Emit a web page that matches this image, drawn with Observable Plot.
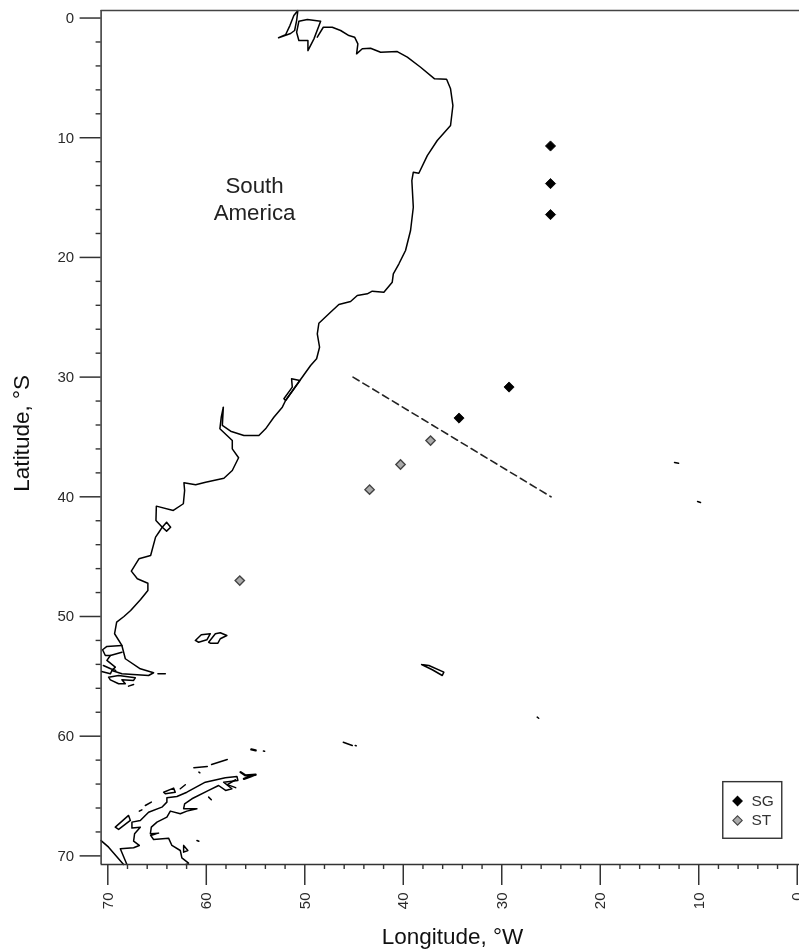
<!DOCTYPE html>
<html>
<head>
<meta charset="utf-8">
<script src="https://cdn.jsdelivr.net/npm/d3@7"></script>
<script src="https://cdn.jsdelivr.net/npm/@observablehq/plot@0.6"></script>
<style>
html,body{margin:0;padding:0;background:#fff}
svg{display:block;filter:blur(0.5px)}
</style>
</head>
<body>
<div id="chart"></div>
<script>
// Longitude (deg W), latitude (deg S)
const lonMajor = [70,60,50,40,30,20,10,0];
const lonMinor = [68,66,64,62,58,56,54,52,48,46,44,42,38,36,34,32,28,26,24,22,18,16,14,12,8,6,4,2];
const latMajor = [0,10,20,30,40,50,60,70];
const latMinor = [2,4,6,8,12,14,16,18,22,24,26,28,32,34,36,38,42,44,46,48,52,54,56,58,62,64,66,68];

const sgStations = [[25.05,10.69],[25.05,13.83],[25.05,16.42],[29.26,30.83],[34.34,33.42]];
const stStations = [[37.23,35.3],[40.28,37.3],[43.42,39.4],[56.6,47.0]];
const front = [[45.1,30],[25,40]];

const amazonWest = [[52.66,1.65],[51.95,1.40],[51.51,0.63],[51.11,-0.21],[50.70,-0.63],[50.83,0.21],[51.03,1.04],[51.44,1.29],[52.66,1.65]];
const marajo = [[50.60,0.27],[49.74,0.13],[48.39,0.27],[49.07,1.74],[49.68,2.72],[49.68,1.88],[50.60,1.88],[50.83,1.19],[50.60,0.27]];
const mainCoast = [[48.73,1.60],[48.12,0.77],[47.21,0.77],[46.36,1.04],[45.52,1.46],[44.94,1.60],[44.61,2.16],[44.74,2.99],[44.16,2.57],[43.32,2.52],[42.30,2.86],[40.61,2.80],[39.59,3.27],[38.24,4.11],[36.82,5.08],[35.60,5.11],[35.20,5.91],[34.96,7.31],[35.20,8.98],[36.55,10.23],[37.56,11.49],[38.42,12.97],[38.98,12.88],[39.13,13.58],[38.98,15.81],[39.26,17.75],[39.77,19.42],[40.44,20.53],[41.01,21.37],[41.12,22.07],[41.97,22.91],[43.15,22.82],[43.65,23.04],[44.67,23.18],[45.35,23.68],[46.54,23.93],[47.55,24.71],[48.57,25.50],[48.73,26.38],[48.50,27.50],[48.80,28.47],[49.41,29.03],[50.50,30.28],[51.95,31.95],[52.28,32.51],[53.14,33.35],[53.98,34.32],[54.66,34.88],[56.18,34.88],[57.53,34.52],[58.37,34.04],[58.27,32.51],[58.48,33.35],[58.62,34.32],[57.36,35.30],[57.36,35.99],[56.72,36.74],[57.36,37.80],[58.21,38.45],[60.07,38.78],[61.08,39.00],[62.27,38.83],[62.20,39.47],[62.33,40.58],[63.35,41.14],[65.07,40.78],[65.11,41.98],[64.47,42.54],[64.81,42.96],[65.15,43.37],[65.65,44.90],[66.84,45.18],[67.61,46.21],[67.00,46.85],[65.93,47.22],[65.93,47.83],[66.67,48.58],[67.68,49.50],[68.36,50.00],[69.10,50.47],[69.31,51.44],[68.57,52.42],[68.22,53.53],[66.70,54.37],[65.35,54.70],[65.86,54.93],[68.57,54.79],[69.58,54.51],[69.24,54.23],[70.09,53.67],[69.74,53.26],[68.57,52.98]];
const lagoon = [[51.34,30.14],[50.50,30.28],[51.95,31.95],[52.12,31.81],[51.27,30.84],[51.34,30.14]];
const valdes = [[64.47,42.54],[64.03,42.12],[63.62,42.54],[64.03,42.87],[64.47,42.54]];
const magellan = [[68.57,52.42],[70.09,52.50],[70.53,52.78],[70.25,53.26],[69.74,53.26]];
const chileSouth = [[70.63,54.59],[69.74,54.79],[69.58,54.51]];
const chileChannel = [[70.45,54.09],[69.71,54.37],[69.20,54.50]];
const fuegoIslands = [[69.92,55.07],[68.90,54.93],[67.21,55.12],[67.38,55.34],[68.57,55.29],[68.22,55.62],[68.90,55.62],[69.74,55.29],[69.92,55.07]];
const hornIslet = [[67.89,55.82],[67.38,55.68]];
const staten = [[64.91,54.79],[64.16,54.79]];
const falklandWest = [[61.11,52.00],[60.51,51.53],[59.59,51.44],[59.94,51.95],[60.78,52.15],[61.11,52.00]];
const falklandEast = [[59.76,52.15],[59.08,51.44],[58.58,51.36],[57.91,51.59],[58.58,51.86],[58.82,52.23],[59.59,52.23],[59.76,52.15]];
const southGeorgia = [[38.14,54.01],[37.40,54.09],[35.88,54.65],[36.04,54.93],[37.05,54.45],[38.14,54.01]];
const sandwich = [[26.40,58.41],[26.25,58.50]];
const orkney = [[46.09,60.50],[45.18,60.78]];
const orkneyEast = [[44.88,60.78],[44.78,60.80]];
const tristan = [[12.46,37.13],[12.05,37.2]];
const gough = [[10.12,40.39],[9.82,40.47]];
const peninsula = [[68.06,70.72],[68.73,69.40],[67.38,69.32],[66.80,69.13],[67.38,68.77],[67.28,68.15],[66.70,67.60],[67.55,67.68],[67.55,67.18],[66.70,67.04],[65.86,66.35],[64.51,65.93],[64.00,65.51],[64.00,65.14],[62.98,65.04],[61.97,64.68],[60.10,63.84],[58.07,63.47],[56.89,63.36],[56.79,63.70],[58.24,63.84],[57.40,64.39],[58.04,64.53],[58.75,64.12],[59.76,64.53],[61.46,65.23],[62.20,65.65],[62.30,66.06],[60.95,66.06],[61.97,66.26],[62.64,66.48],[63.65,66.26],[64.00,66.76],[65.01,67.18],[65.58,67.60],[65.68,68.15],[64.84,68.10],[65.65,68.29],[65.35,68.63],[63.83,68.52],[63.49,69.13],[62.64,69.55],[62.48,70.16],[61.80,70.60],[62.07,70.72]];
const peninsulaTip = [[57.02,63.64],[57.86,64.05],[57.02,64.30]];
const joinville = [[56.52,63.00],[56.01,63.28],[54.99,63.22],[56.18,63.56]];
const shetlandWest = [[61.26,62.64],[59.90,62.53]];
const shetlandEast = [[59.46,62.36],[57.87,61.94]];
const deception = [[60.75,63.00],[60.65,63.06]];
const elephant = [[55.43,61.11],[54.99,61.19]];
const clarence = [[54.20,61.24],[54.08,61.26]];
const adelaide = [[69.24,67.60],[67.89,66.62],[67.71,67.04],[68.90,67.79],[69.24,67.60]];
const isletA = [[66.80,66.26],[66.54,66.15]];
const isletB = [[66.19,65.79],[65.58,65.51]];
const anvers = [[64.33,64.68],[63.32,64.34],[63.15,64.68],[64.16,64.81],[64.33,64.68]];
const brabant = [[62.64,64.39],[62.13,64.06]];
const isletC = [[59.76,65.09],[59.49,65.31]];
const isletD = [[60.95,68.71],[60.75,68.78]];
const charcot = [[62.30,69.13],[61.87,69.55],[62.30,69.69],[62.30,69.13]];
const alexander = [[70.68,68.72],[69.92,69.27],[68.40,70.72]];

const thinCoasts = [amazonWest,marajo,mainCoast,lagoon,valdes,magellan,chileSouth,chileChannel,fuegoIslands,hornIslet,staten,falklandWest,falklandEast,southGeorgia,sandwich,orkney,orkneyEast,tristan,gough,peninsula,peninsulaTip,shetlandWest,shetlandEast,deception,clarence,adelaide,isletA,isletB,anvers,brabant,isletC,isletD,charcot,alexander];
const thickCoasts = [joinville,elephant];

const legendBox = {x1:7.51,x2:1.52,y1:63.84,y2:68.57};
const legendItems = [{name:"SG",x:6.06,tx:4.64,y:65.41,fill:"#000"},{name:"ST",x:6.06,tx:4.64,y:67.04,fill:"#aaa"}];

const font = "'Liberation Sans', Arial, sans-serif";
const ink = "#2a2a2a";
const px = d => d[0], py = d => d[1];

const chart = Plot.plot({
  width: 799, height: 952,
  marginLeft: 100.6, marginRight: 0, marginTop: 10, marginBottom: 88,
  style: {fontFamily: font, background: "#fff"},
  x: {domain: [70.68,-0.23]},
  y: {domain: [70.72,-0.63]},
  marks: [
    ...thinCoasts.map(seg => Plot.line(seg,{x:px,y:py,stroke:"#000",strokeWidth:1.5,strokeLinejoin:"round"})),
    ...thickCoasts.map(seg => Plot.line(seg,{x:px,y:py,stroke:"#000",strokeWidth:2.3})),
    Plot.line(front,{x:px,y:py,stroke:"#222",strokeWidth:1.6,strokeDasharray:"7,4.5"}),
    Plot.dot(stStations,{x:px,y:py,symbol:"diamond2",r:4.2,fill:"#aaa",stroke:"#444",strokeWidth:1.4}),
    Plot.dot(sgStations,{x:px,y:py,symbol:"diamond2",r:4.6,fill:"#000",stroke:"#000",strokeWidth:0.8}),
    Plot.text(["South"],{x:55.1,y:14,text:d=>d,fontSize:22.3,fill:"#222"}),
    Plot.text(["America"],{x:55.1,y:16.25,text:d=>d,fontSize:22.3,fill:"#222"}),
    Plot.rect([legendBox],{x1:"x1",x2:"x2",y1:"y1",y2:"y2",stroke:"#333",strokeWidth:1.4,fill:"none"}),
    Plot.dot(legendItems,{x:"x",y:"y",symbol:"diamond2",r:4.2,fill:"fill",stroke:d=>d.name==="SG"?"#000":"#444",strokeWidth:1.1}),
    Plot.text(legendItems,{x:"tx",y:"y",text:"name",textAnchor:"start",fontSize:15.5,fill:"#333"}),
    Plot.ruleX([70.68],{stroke:"#333",strokeWidth:1.5}),
    Plot.ruleY([-0.63],{stroke:"#444",strokeWidth:1.5}),
    Plot.ruleY([70.72],{stroke:"#333",strokeWidth:1.5}),
    Plot.axisX({anchor:"bottom",ticks:lonMajor,tickSize:21,tickPadding:7,tickRotate:-90,tickFormat:d=>String(d),label:null,fontSize:15,stroke:"#333",strokeWidth:1.5,fill:ink}),
    Plot.axisX({anchor:"bottom",ticks:lonMinor,tickSize:5,tickFormat:()=>"",label:null,stroke:"#333",strokeWidth:1.4}),
    Plot.axisY({anchor:"left",ticks:latMajor,tickSize:21,tickPadding:6,tickFormat:d=>String(d),label:null,fontSize:15,stroke:"#333",strokeWidth:1.5,fill:ink}),
    Plot.axisY({anchor:"left",ticks:latMinor,tickSize:5,tickFormat:()=>"",label:null,stroke:"#333",strokeWidth:1.4}),
    Plot.text(["Longitude, °W"],{x:35,y:76.8,text:d=>d,fontSize:22.5,fill:"#111"}),
    Plot.text(["Latitude, °S"],{x:78.75,y:34.7,text:d=>d,rotate:-90,fontSize:22.5,fill:"#111"})
  ]
});
document.getElementById("chart").appendChild(chart);
</script>
</body>
</html>
